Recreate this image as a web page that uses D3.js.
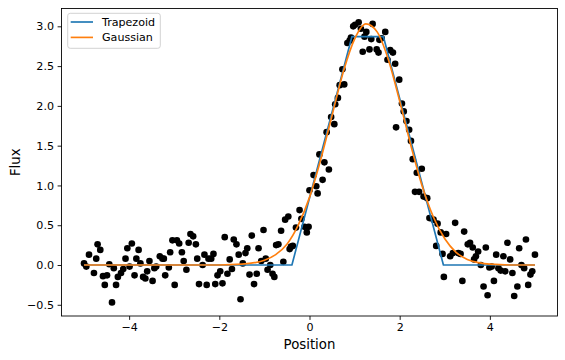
<!DOCTYPE html>
<html><head><meta charset="utf-8">
<script src="https://cdn.jsdelivr.net/npm/d3@7"></script>
<style>body{margin:0;background:#fff}</style>
</head><body><svg id="c" width="565" height="360"></svg>
<script>
const pointX = [-5.00,-4.95,-4.89,-4.78,-4.73,-4.70,-4.64,-4.58,-4.54,-4.49,-4.44,-4.38,-4.34,-4.29,-4.25,-4.18,-4.13,-4.08,-4.04,-3.99,-3.94,-3.88,-3.84,-3.79,-3.75,-3.69,-3.64,-3.60,-3.55,-3.48,-3.44,-3.40,-3.32,-3.26,-3.23,-3.20,-3.12,-3.09,-3.04,-2.99,-2.94,-2.89,-2.83,-2.79,-2.73,-2.68,-2.64,-2.58,-2.52,-2.49,-2.45,
-2.37,-2.33,-2.28,-2.24,-2.18,-2.13,-2.09,-2.04,-1.98,-1.93,-1.88,-1.82,-1.77,-1.72,-1.68,-1.62,-1.57,-1.53,-1.48,-1.42,-1.38,-1.33,-1.28,-1.23,-1.17,-1.13,-1.07,-1.02,-0.97,-0.93,-0.87,-0.82,-0.78,-0.74,-0.69,-0.63,
-0.58,-0.54,-0.47,-0.44,-0.41,-0.37,-0.30,-0.22,-0.18,-0.11,-0.06,-0.02,0.00,0.09,0.15,0.18,0.22,0.29,0.33,0.38,0.43,
0.48,0.55,0.57,0.63,0.67,0.73,0.77,0.84,0.89,0.92,0.97,1.01,1.09,1.14,1.18,1.22,1.26,1.33,1.37,1.40,1.49,1.53,1.55,1.60,1.68,1.73,1.79,1.85,1.90,
1.92,1.99,2.05,2.09,2.15,2.21,2.25,2.29,2.34,2.38,2.43,2.49,
2.53,2.61,2.66,2.75,2.81,2.84,2.91,2.95,2.98,3.03,
3.12,3.18,3.23,3.30,3.35,3.39,3.43,3.51,3.56,3.62,3.65,3.69,3.74,3.80,3.86,3.91,3.95,3.99,4.04,4.09,4.14,4.19,4.24,4.30,4.34,4.39,4.45,4.50,4.54,4.61,4.65,4.70,4.76,4.80,4.85,4.90,4.94,5.00];
const pointY = [0.02,-0.02,0.13,-0.10,0.08,0.26,0.19,-0.14,-0.25,-0.13,0.01,-0.47,-0.04,-0.25,-0.15,-0.10,-0.05,0.08,0.21,-0.02,0.27,-0.13,0.08,0.19,0.02,-0.15,-0.17,-0.08,0.05,-0.20,-0.04,-0.02,0.11,0.08,0.08,-0.13,-0.03,0.16,0.31,-0.25,0.31,0.27,0.16,0.05,-0.06,0.28,0.39,0.36,0.26,0.08,-0.24,
0.00,0.13,-0.25,0.08,0.08,0.14,-0.24,-0.13,-0.08,-0.23,0.35,-0.11,0.07,-0.05,0.32,0.26,0.13,-0.43,0.02,0.15,0.21,-0.12,0.37,-0.24,-0.11,0.21,0.05,0.44,0.08,-0.06,0.00,-0.11,-0.15,0.25,0.26,0.43,
0.04,0.57,0.61,0.20,0.23,0.24,0.47,0.69,0.58,0.48,0.41,0.48,0.94,1.13,0.99,0.90,1.39,1.07,1.29,1.67,1.20,
1.86,1.77,2.02,2.10,2.26,2.46,2.27,2.79,2.82,2.86,3.00,3.02,3.05,2.97,2.68,2.87,2.93,2.71,2.84,3.03,2.71,2.67,2.83,2.85,2.93,2.58,2.70,2.67,2.53,
1.73,2.33,2.03,1.93,1.81,1.70,1.56,1.33,0.92,1.16,0.92,1.21,
0.86,0.84,0.59,0.57,0.24,0.52,0.41,0.14,-0.15,0.39,
0.11,0.15,0.53,0.15,0.14,-0.20,0.42,0.26,0.28,0.22,0.07,0.11,0.17,0.00,-0.27,0.22,-0.38,-0.03,-0.02,-0.20,0.13,-0.04,-0.07,0.11,-0.08,0.28,0.07,-0.10,-0.39,-0.27,0.21,0.00,-0.04,0.32,-0.25,-0.12,-0.08,0.13];

// Fitted models
const trapX = [-5, -0.39, 0.94, 1.64, 2.97, 5];
const trapY = [0, 0, 2.87, 2.87, 0, 0];
const gaussX = [-5,-2,-1.5,-1,-0.75,-0.5,-0.25,0,0.25,0.5,0.75,1,1.25,1.5,1.75,2,2.25,2.5,2.75,3,3.25,3.5,3.75,4,4.5,5];
const gaussY = [0,0,0.01,0.06,0.13,0.26,0.50,0.85,1.33,1.88,2.43,2.84,3.03,2.93,2.58,2.06,1.50,0.99,0.60,0.33,0.16,0.07,0.03,0.01,0,0];

const xTicks = [-4, -2, 0, 2, 4];
const yTicks = [-0.5, 0, 0.5, 1, 1.5, 2, 2.5, 3];
const seriesNames = ["Trapezoid", "Gaussian"];
const seriesColors = ["#1f77b4", "#ff7f0e"];

const svg = d3.select("#c");
svg.append("rect").attr("width", 565).attr("height", 360).attr("fill", "#fff");

const L = 61.5, R = 557.5, T = 8.5, B = 316;
const x = d3.scaleLinear().domain([-5.5, 5.5]).range([L, R]);
const y = d3.scaleLinear().domain([-0.641, 3.224]).range([B, T]);
const font = "DejaVu Sans, sans-serif";

// points
svg.append("g").selectAll("circle").data(d3.range(pointX.length)).join("circle")
  .attr("cx", i => x(pointX[i])).attr("cy", i => y(pointY[i])).attr("r", 3.33).attr("fill", "#000");

const line = d3.line().x(d => x(d[0])).y(d => y(d[1]));
svg.append("path").datum(d3.zip(trapX, trapY)).attr("d", line)
  .attr("fill", "none").attr("stroke", seriesColors[0]).attr("stroke-width", 1.67).attr("stroke-linejoin", "round");
svg.append("path").datum(d3.zip(gaussX, gaussY)).attr("d", line.curve(d3.curveMonotoneX))
  .attr("fill", "none").attr("stroke", seriesColors[1]).attr("stroke-width", 1.67).attr("stroke-linejoin", "round");

// axes
const xAxis = d3.axisBottom(x).tickValues(xTicks).tickSize(3.9).tickPadding(3.6).tickFormat(d3.format("d"));
const yAxis = d3.axisLeft(y).tickValues(yTicks).tickSize(3.9).tickPadding(3.6).tickFormat(d3.format(".1f"));
const gx = svg.append("g").attr("transform", `translate(0,${B})`).call(xAxis);
const gy = svg.append("g").attr("transform", `translate(${L},0)`).call(yAxis);
[gx, gy].forEach(g => {
  g.select(".domain").remove();
  g.selectAll(".tick line").attr("stroke", "#000").attr("stroke-width", 0.89);
  g.selectAll(".tick text").attr("fill", "#000").style("font-family", font).style("font-size", "11.1px");
});

// frame
svg.append("rect").attr("x", L).attr("y", T).attr("width", R - L).attr("height", B - T)
  .attr("fill", "none").attr("stroke", "#000").attr("stroke-width", 0.89);

// labels
svg.append("text").attr("x", (L + R) / 2).attr("y", 348.5).attr("text-anchor", "middle")
  .style("font-family", font).style("font-size", "13.3px").text("Position");
svg.append("text").attr("transform", `translate(19.7,${(T + B) / 2}) rotate(-90)`).attr("text-anchor", "middle")
  .style("font-family", font).style("font-size", "13.3px").text("Flux");

// legend
const lg = svg.append("g");
lg.append("rect").attr("x", 67.7).attr("y", 13.3).attr("width", 92.6).attr("height", 35)
  .attr("rx", 2.5).attr("fill", "#fff").attr("fill-opacity", 0.8).attr("stroke", "#cccccc").attr("stroke-width", 0.89);
seriesNames.forEach((name, i) => {
  const yy = 22 + i * 15.4;
  lg.append("line").attr("x1", 70.7).attr("x2", 93).attr("y1", yy).attr("y2", yy)
    .attr("stroke", seriesColors[i]).attr("stroke-width", 1.67);
  lg.append("text").attr("x", 102).attr("y", yy + 4).style("font-family", font).style("font-size", "11.1px").text(name);
});
</script></body></html>
